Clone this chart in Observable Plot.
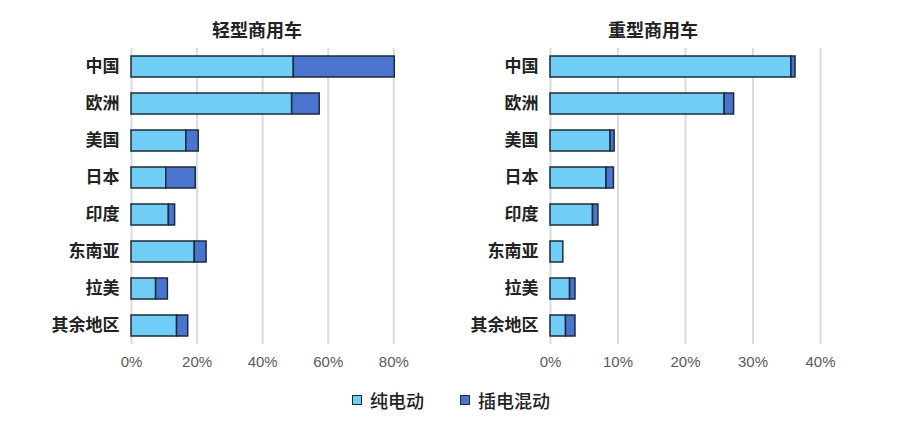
<!DOCTYPE html>
<html><head><meta charset="utf-8">
<script src="https://cdn.jsdelivr.net/npm/d3@7"></script>
<script src="https://cdn.jsdelivr.net/npm/@observablehq/plot@0.6"></script>
<style>
body{margin:0;background:#fff;font-family:"Noto Sans CJK SC","Noto Sans",sans-serif;width:900px;height:425px;position:relative;overflow:hidden}
.panel{position:absolute;top:0}
.title{position:absolute;top:17px;font-size:18px;font-weight:700;color:#222;text-align:center;line-height:24px}
.legend{position:absolute;top:387px;left:352px;display:flex;align-items:center;font-size:18px;color:#222;font-weight:500;line-height:26px}
.sw{width:8px;height:8px;border:1.5px solid #1c2b3a;margin-right:8px;display:inline-block}
.item{display:flex;align-items:center;margin-right:36px}
</style></head>
<body>
<div id="left" class="panel" style="left:0"></div>
<div id="right" class="panel" style="left:420px"></div>
<div class="title" style="left:187px;width:140px">轻型商用车</div>
<div class="title" style="left:583px;width:140px">重型商用车</div>
<div class="legend">
  <div class="item"><span class="sw" style="background:#6fcdf6"></span>纯电动</div>
  <div class="item"><span class="sw" style="background:#4a74cf"></span>插电混动</div>
</div>
<script>
const regions = ["中国","欧洲","美国","日本","印度","东南亚","拉美","其余地区"];
const series = ["纯电动","插电混动"];
const colors = ["#6fcdf6","#4a74cf"];
// shares (%)
const lightBEV  = [49.5, 49.0, 16.7, 10.6, 11.4, 19.3, 7.5, 13.9];
const lightPHEV = [30.8,  8.4,  3.8,  9.0,  1.9,  3.6, 3.6,  3.4];
const heavyBEV  = [35.7, 25.8, 8.9, 8.3, 6.3, 1.9, 2.9, 2.3];
const heavyPHEV = [ 0.6,  1.4, 0.6, 1.1, 0.8, 0.0, 0.8, 1.4];
const lightTicks = [0,20,40,60,80];
const heavyTicks = [0,10,20,30,40];

function rows(bev, phev){
  const out = [];
  regions.forEach((r,i)=>{
    out.push({region:r, type:series[0], value:bev[i]});
    if (phev[i] > 0) out.push({region:r, type:series[1], value:phev[i]});
  });
  return out;
}

function chart(data, ticks, width, marginLeft, marginRight){
  return Plot.plot({
    width, height:385,
    marginLeft, marginRight, marginTop:48, marginBottom:41,
    style:{fontFamily:'"Noto Sans CJK SC","Noto Sans",sans-serif', background:"transparent"},
    x:{domain:[ticks[0], ticks[ticks.length-1]], ticks, tickFormat:d=>d+"%", label:null},
    y:{domain:regions, paddingInner:0.43, paddingOuter:0.215, label:null},
    color:{domain:series, range:colors},
    marks:[
      Plot.gridX(ticks,{stroke:"#dcdcdc", strokeOpacity:1, strokeWidth:2}),
      Plot.barX(data, Plot.stackX({x:"value", y:"region", fill:"type", order:series, stroke:"#1c2b3a", strokeWidth:1.5})),
      Plot.axisX(ticks,{tickSize:0, tickPadding:12, fontSize:15, fill:"#5a5a5a", fontFamily:'"Liberation Sans",Arial,sans-serif', tickFormat:d=>d+"%"}),
      Plot.axisY({tickSize:0, tickPadding:12, fontSize:17, fontWeight:700, fill:"#222"})
    ]
  });
}

document.getElementById("left").append(chart(rows(lightBEV, lightPHEV), lightTicks, 420, 131, 26.7));
document.getElementById("right").append(chart(rows(heavyBEV, heavyPHEV), heavyTicks, 480, 130, 80));
</script>
</body></html>
